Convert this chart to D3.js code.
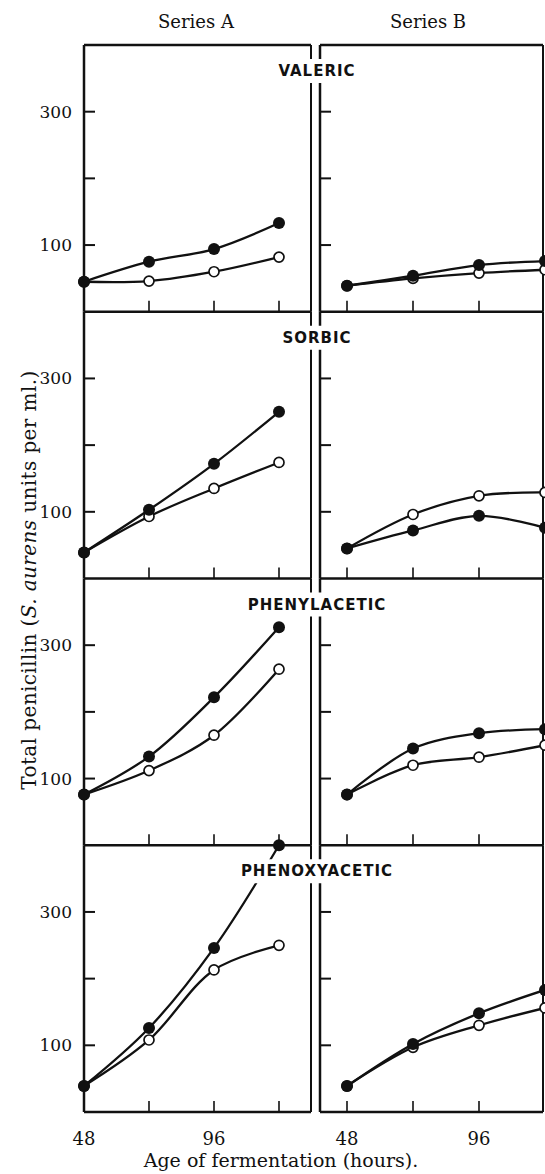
<!DOCTYPE html>
<html lang="en">
<head>
<meta charset="UTF-8">
<title>Total penicillin by age of fermentation</title>
<script src="https://d3js.org/d3.v7.min.js"></script>
<style>
    html, body { margin: 0; padding: 0; background: #fff; overflow: hidden; }
    svg { display: block; }
    .serif { font-family: "DejaVu Serif", "Liberation Serif", serif; fill: #111; }
    .acid { font-family: "DejaVu Sans", sans-serif; font-weight: bold; fill: #111; letter-spacing: 1px; }
</style>
</head>
<body>
<svg id="chart" width="545" height="1174"></svg>
<script>
    // data
    const hours = [48, 72, 96, 120];
    const acids = ["VALERIC", "SORBIC", "PHENYLACETIC", "PHENOXYACETIC"];
    const yTicks = [100, 200, 300];
    const yTickLabels = [100, 300];
    const xTickLabels = [48, 96];
    const seriesNames = ["Series A", "Series B"];

    // [row][hour] for each series / symbol
    const aFilled = [[45, 75, 94, 133], [39, 103, 172, 250], [76, 133, 222, 327], [39, 126, 246, 400]];
    const aOpen   = [[45, 46, 60, 82], [39, 93, 135, 174], [76, 112, 165, 264], [39, 108, 213, 250]];
    const bFilled = [[39, 54, 70, 76], [45, 72, 94, 76], [76, 145, 168, 174], [39, 102, 148, 183]];
    const bOpen   = [[39, 50, 58, 63], [45, 96, 124, 129], [76, 120, 132, 150], [39, 97, 130, 156]];

    const svg = d3.select("#chart");

    const plotTop = 45, plotBottom = 1112;
    const rowH = (plotBottom - plotTop) / acids.length;
    const breakL = 311, breakR = 320, rightEdge = 543;

    const xA = d3.scaleLinear().domain([48, 120]).range([84, 279]);
    const xB = d3.scaleLinear().domain([48, 120]).range([347, 545]);

    const panels = [
        { x: xA, left: 84, right: breakL, filled: aFilled, open: aOpen, labels: true, title: 196 },
        { x: xB, left: breakR, right: rightEdge, filled: bFilled, open: bOpen, labels: false, title: 428 }
    ];

    const line = (x, y) => d3.line()
        .x((d, i) => x(hours[i]))
        .y(d => y(d))
        .curve(d3.curveCatmullRom.alpha(0.5));

    // series titles
    svg.selectAll("text.series")
        .data(seriesNames)
        .enter().append("text")
        .attr("class", "serif series")
        .attr("x", (d, i) => panels[i].title)
        .attr("y", 28)
        .attr("text-anchor", "middle")
        .attr("font-size", 18)
        .text(d => d);

    acids.forEach((acid, r) => {
        const y0 = plotTop + r * rowH;
        const y = d3.scaleLinear().domain([0, 400]).range([y0 + rowH, y0]);

        panels.forEach(p => {
            const g = svg.append("g");

            // frame
            const frame = g.append("g").attr("stroke", "#111").attr("fill", "none");
            frame.append("line").attr("x1", p.left).attr("x2", p.right)
                .attr("y1", y0 + rowH).attr("y2", y0 + rowH).attr("stroke-width", 2.5);
            if (r === 0) {
                frame.append("line").attr("x1", p.left).attr("x2", p.right)
                    .attr("y1", y0).attr("y2", y0).attr("stroke-width", 2.5);
            }
            frame.append("line").attr("x1", p.left).attr("x2", p.left)
                .attr("y1", y0).attr("y2", y0 + rowH).attr("stroke-width", 2.5);
            frame.append("line").attr("x1", p.right).attr("x2", p.right)
                .attr("y1", y0).attr("y2", y0 + rowH).attr("stroke-width", 2);

            // y ticks pointing inward
            frame.selectAll("line.yt")
                .data(yTicks)
                .enter().append("line")
                .attr("x1", p.left).attr("x2", p.left + 11)
                .attr("y1", d => y(d)).attr("y2", d => y(d))
                .attr("stroke-width", 2);

            // x ticks pointing up
            frame.selectAll("line.xt")
                .data(hours.filter(h => p.x(h) > p.left + 2 && p.x(h) < p.right - 2))
                .enter().append("line")
                .attr("x1", d => p.x(d)).attr("x2", d => p.x(d))
                .attr("y1", y0 + rowH).attr("y2", y0 + rowH - 11)
                .attr("stroke-width", 1.6);

            if (p.labels) {
                g.selectAll("text.yl")
                    .data(yTickLabels)
                    .enter().append("text")
                    .attr("class", "serif")
                    .attr("x", 72)
                    .attr("y", d => y(d) + 6)
                    .attr("text-anchor", "end")
                    .attr("font-size", 17)
                    .text(d => d);
            }

            // curves
            [p.filled[r], p.open[r]].forEach(vals => {
                g.append("path")
                    .attr("d", line(p.x, y)(vals))
                    .attr("fill", "none")
                    .attr("stroke", "#111")
                    .attr("stroke-width", 2.3);
            });

            g.selectAll("circle.open")
                .data(p.open[r])
                .enter().append("circle")
                .attr("cx", (d, i) => p.x(hours[i]))
                .attr("cy", d => y(d))
                .attr("r", 5)
                .attr("fill", "#fff")
                .attr("stroke", "#111")
                .attr("stroke-width", 1.7);

            g.selectAll("circle.filled")
                .data(p.filled[r])
                .enter().append("circle")
                .attr("cx", (d, i) => p.x(hours[i]))
                .attr("cy", d => y(d))
                .attr("r", 6)
                .attr("fill", "#111");
        });

        // acid label sitting over the break
        const label = svg.append("text")
            .attr("class", "acid")
            .attr("x", 317)
            .attr("y", y0 + 31)
            .attr("text-anchor", "middle")
            .attr("font-size", 15)
            .text(acid);
        const bb = label.node().getBBox();
        svg.insert("rect", () => label.node())
            .attr("x", bb.x - 3).attr("y", bb.y - 3)
            .attr("width", bb.width + 6).attr("height", bb.height + 6)
            .attr("fill", "#fff");
    });

    // x tick labels under both panels
    panels.forEach(p => {
        svg.selectAll(null)
            .data(xTickLabels)
            .enter().append("text")
            .attr("class", "serif")
            .attr("x", d => p.x(d))
            .attr("y", plotBottom + 33)
            .attr("text-anchor", "middle")
            .attr("font-size", 18)
            .text(d => d);
    });

    svg.append("text")
        .attr("class", "serif")
        .attr("x", 281)
        .attr("y", plotBottom + 55)
        .attr("text-anchor", "middle")
        .attr("font-size", 19)
        .text("Age of fermentation (hours).");

    const yTitle = svg.append("text")
        .attr("class", "serif")
        .attr("transform", `translate(36, 580) rotate(-90)`)
        .attr("text-anchor", "middle")
        .attr("font-size", 20)
        .attr("letter-spacing", 0.4);
    yTitle.append("tspan").text("Total penicillin (");
    yTitle.append("tspan").attr("font-style", "italic").text("S. aurens");
    yTitle.append("tspan").text(" units per ml.)");
</script>
</body>
</html>
